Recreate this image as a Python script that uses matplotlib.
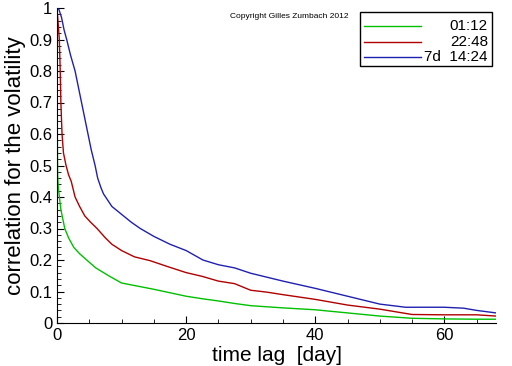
import matplotlib
matplotlib.use("Agg")
import matplotlib.pyplot as plt
from matplotlib.lines import Line2D
from matplotlib.patches import Rectangle
from matplotlib.ticker import MultipleLocator

# lag in days and correlation values
lag_green = [0, 0.05, 0.1, 0.2, 0.37, 0.6, 0.9, 1.2, 1.8, 2.6, 3.5, 4.6, 6, 8, 10, 12.5, 15,
             17.5, 20, 22.5, 25, 27.5, 30, 35, 40, 45, 50, 55, 60, 65, 68]
corr_green = [1.0, 0.6, 0.47, 0.43, 0.4, 0.36, 0.33, 0.3, 0.27, 0.24, 0.22, 0.2, 0.175, 0.15,
              0.127, 0.117, 0.107, 0.096, 0.085, 0.077, 0.07, 0.062, 0.055, 0.048, 0.042,
              0.032, 0.022, 0.015, 0.013, 0.012, 0.012]

lag_red = [0, 0.15, 0.36, 0.5, 0.6, 0.78, 1.0, 1.4, 1.8, 2.2, 2.8, 3.5, 4.3, 5.2, 6.2, 7.5, 8.5,
           10, 12, 14.4, 17, 20, 22.5, 25, 27.5, 30, 32.5, 35, 40, 45, 50, 55, 60, 65, 68]
corr_red = [1.0, 0.96, 0.9, 0.8, 0.7, 0.6, 0.54, 0.5, 0.47, 0.45, 0.4, 0.37, 0.34, 0.32, 0.3,
            0.27, 0.25, 0.23, 0.21, 0.198, 0.18, 0.16, 0.148, 0.133, 0.125, 0.104, 0.098,
            0.09, 0.075, 0.057, 0.044, 0.027, 0.026, 0.026, 0.022]

lag_blue = [0, 0.3, 0.7, 1.1, 1.5, 2.1, 2.8, 3.3, 3.8, 4.3, 4.8, 5.3, 5.9, 6.3, 6.8, 7.2, 8.5, 10,
            11.5, 12.9, 15, 17.5, 20, 22.6, 25, 27.5, 30, 35, 40, 45, 50, 54, 57, 60, 63, 65, 68]
corr_blue = [1.0, 0.995, 0.97, 0.93, 0.9, 0.85, 0.8, 0.75, 0.7, 0.65, 0.6, 0.55, 0.5, 0.46,
             0.43, 0.41, 0.37, 0.345, 0.32, 0.3, 0.275, 0.25, 0.23, 0.2, 0.185, 0.175, 0.158,
             0.133, 0.11, 0.085, 0.06, 0.05, 0.05, 0.05, 0.047, 0.04, 0.032]

labels = ["01:12", "22:48", "7d  14:24"]
colors = ["#00c000", "#b00000", "#2020b0"]

plt.rcParams["font.family"] = "Liberation Sans"

fig = plt.figure(figsize=(5.12, 3.66), dpi=100)
ax = fig.add_axes([57 / 512, 43 / 366, 439 / 512, 315 / 366])

for xs, ys, c in zip([lag_green, lag_red, lag_blue], [corr_green, corr_red, corr_blue], colors):
    ax.plot(xs, ys, color=c, lw=1)

ax.set_xlim(0, 68)
ax.set_ylim(0, 1)
ax.spines["top"].set_visible(False)
ax.spines["right"].set_visible(False)
ax.xaxis.set_major_locator(MultipleLocator(20))
ax.xaxis.set_minor_locator(MultipleLocator(5))
ax.yaxis.set_minor_locator(MultipleLocator(0.02))
ax.set_yticks([0, 0.1, 0.2, 0.3, 0.4, 0.5, 0.6, 0.7, 0.8, 0.9, 1])
ax.set_yticklabels(["0", "0.1", "0.2", "0.3", "0.4", "0.5", "0.6", "0.7", "0.8", "0.9", "1"])
ax.tick_params(which="both", direction="in", labelsize=12)
ax.tick_params(which="major", length=5)
ax.tick_params(which="minor", length=3)

ax.set_xlabel("time lag  [day]", fontsize=15, labelpad=2)
ax.set_ylabel("correlation for the volatility", fontsize=16, labelpad=2)

fig.text(230 / 512, 1 - 16 / 366, "Copyright Gilles Zumbach 2012", fontsize=6, va="center")

# legend box drawn by hand so the labels are right aligned like the original
tr = fig.transFigure
fig.patches.append(Rectangle((360 / 512, 1 - 66 / 366), 132 / 512, 54 / 366, transform=tr,
                             fill=False, edgecolor="black", lw=1))
for i, (lab, c) in enumerate(zip(labels, colors)):
    yy = 1 - (26 + 15.5 * i) / 366
    fig.lines.append(Line2D([364 / 512, 421 / 512], [yy, yy], transform=tr, color=c, lw=1))
    fig.text(488 / 512, yy, lab, ha="right", va="center", fontsize=11)

fig.savefig("out.png", dpi=100)
